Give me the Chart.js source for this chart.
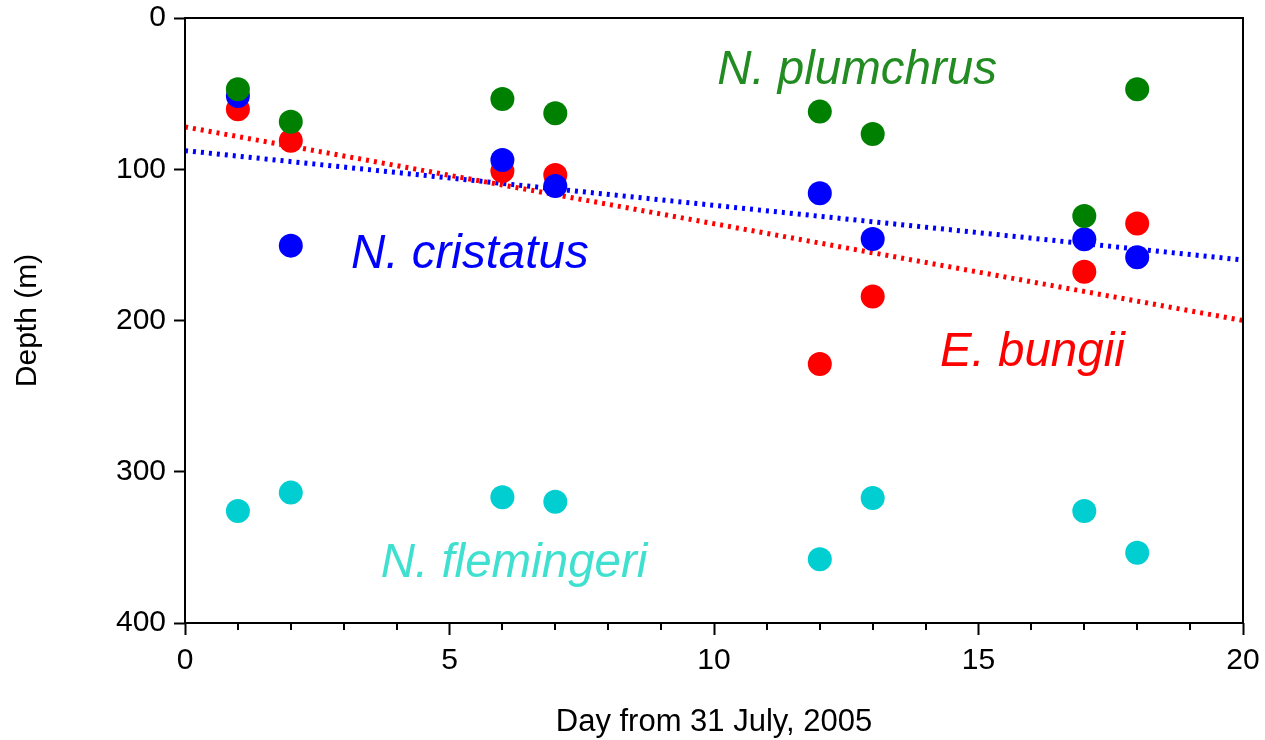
<!DOCTYPE html>
<html>
<head>
<meta charset="utf-8">
<script src="https://cdn.jsdelivr.net/npm/chart.js@4"></script>
<style>
    body { margin: 0; background: #fff; }
    #wrap { width: 1265px; height: 740px; }
</style>
</head>
<body>
<div id="wrap"><canvas id="chart" width="1265" height="740"></canvas></div>
<script>
// DATA
let days = [1, 2, 6, 7, 12, 13, 17, 18];
let plumchrus = [47.1, 68.6, 53.6, 63.0, 61.9, 76.7, 130.9, 47.1];
let cristatus = [51.6, 150.5, 93.9, 111.1, 115.9, 146.1, 146.3, 158.2];
let bungii = [60.4, 81.1, 101.2, 103.8, 228.8, 184.2, 167.7, 135.8];
let flemingeri = [326.0, 313.8, 316.9, 319.8, 357.9, 317.4, 326.0, 353.5];

let trendDays = [0, 20];
let bungiiTrend = [72, 200];
let cristatusTrend = [87.7, 160];

let xTicks = [0, 5, 10, 15, 20];
let yTicks = [0, 100, 200, 300, 400];

// species names written inside the plot
let speciesNames = ["N. plumchrus", "N. cristatus", "E. bungii", "N. flemingeri"];

function pts(xs, ys) {
    return xs.map((x, i) => ({ x: x, y: ys[i] }));
}

// where the names sit (left edge, baseline) in data units
let nameAnchors = [
    { x: 10.06, y: 43.8, color: "#228b22" },
    { x: 3.14, y: 165.3, color: "#0000ff" },
    { x: 14.27, y: 230.1, color: "#ff0000" },
    { x: 3.70, y: 369.6, color: "#40e0d0" }
];

const FONT = "'Liberation Sans', Arial, sans-serif";

// frame, minor ticks and species names
const extras = {
    id: "extras",
    afterDatasetsDraw(c) {
        let ctx = c.ctx;
        let xs = c.scales.x, ys = c.scales.y;
        ctx.save();
        ctx.font = "italic 47.5px " + FONT;
        ctx.textAlign = "left";
        ctx.textBaseline = "alphabetic";
        speciesNames.forEach((n, i) => {
            ctx.fillStyle = nameAnchors[i].color;
            ctx.fillText(n, xs.getPixelForValue(nameAnchors[i].x), ys.getPixelForValue(nameAnchors[i].y));
        });
        ctx.restore();
    },
    afterDraw(c) {
        let ctx = c.ctx;
        let a = c.chartArea;
        let xs = c.scales.x;
        ctx.save();
        ctx.strokeStyle = "#000";
        ctx.lineWidth = 2;
        ctx.strokeRect(a.left, a.top, a.right - a.left, a.bottom - a.top);
        ctx.beginPath();
        for (let d = 0; d <= 20; d++) {
            if (d % 5 === 0) continue;
            let px = Math.round(xs.getPixelForValue(d));
            ctx.moveTo(px, a.bottom);
            ctx.lineTo(px, a.bottom + 7);
        }
        ctx.stroke();
        ctx.restore();
    }
};

let dot = (data, color, order) => ({
    data: data,
    backgroundColor: color,
    borderColor: color,
    pointRadius: 12,
    pointHoverRadius: 12,
    borderWidth: 0,
    showLine: false,
    order: order
});

let trend = (data, color) => ({
    data: data,
    borderColor: color,
    borderWidth: 5,
    borderDash: [3, 5],
    pointRadius: 0,
    showLine: true,
    fill: false,
    order: 10
});

new Chart(document.getElementById("chart"), {
    type: "scatter",
    data: {
        datasets: [
            dot(pts(days, plumchrus), "#008000", 0),
            dot(pts(days, cristatus), "#0000ff", 1),
            dot(pts(days, bungii), "#ff0000", 2),
            dot(pts(days, flemingeri), "#00ced1", 3),
            trend(pts(trendDays, bungiiTrend), "#ff0000"),
            trend(pts(trendDays, cristatusTrend), "#0000ff")
        ]
    },
    options: {
        responsive: false,
        animation: false,
        events: [],
        layout: { padding: { top: 18, right: 22, left: 0, bottom: 0 } },
        plugins: { legend: { display: false }, tooltip: { enabled: false } },
        scales: {
            x: {
                type: "linear",
                min: 0,
                max: 20,
                afterBuildTicks: s => { s.ticks = xTicks.map(v => ({ value: v })); },
                afterFit: s => { s.height = 117; s.paddingLeft = 0; s.paddingRight = 0; },
                border: { display: false },
                grid: { drawOnChartArea: false, drawTicks: true, tickLength: 12, tickWidth: 2, tickColor: "#000" },
                ticks: { color: "#000", font: { family: FONT, size: 30 }, padding: 8, maxRotation: 0 },
                title: {
                    display: true,
                    text: "Day from 31 July, 2005",
                    color: "#000",
                    font: { family: FONT, size: 31, lineHeight: 1 },
                    padding: { top: 0, bottom: 2 }
                }
            },
            y: {
                type: "linear",
                reverse: true,
                min: 0,
                max: 400,
                afterBuildTicks: s => { s.ticks = yTicks.map(v => ({ value: v })); },
                afterFit: s => { s.width = 185; s.paddingTop = 0; s.paddingBottom = 0; },
                border: { display: false },
                grid: { drawOnChartArea: false, drawTicks: true, tickLength: 11, tickWidth: 2, tickColor: "#000" },
                ticks: { color: "#000", font: { family: FONT, size: 30 }, padding: 8 },
                title: {
                    display: true,
                    text: "Depth (m)",
                    color: "#000",
                    font: { family: FONT, size: 30, lineHeight: 1 },
                    padding: { top: 13, bottom: 0 }
                }
            }
        }
    },
    plugins: [extras]
});
</script>
</body>
</html>
